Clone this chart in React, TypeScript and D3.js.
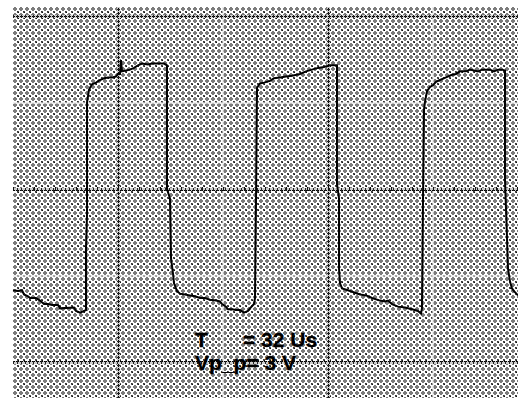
import React from "react";
import * as d3 from "d3";

// Oscilloscope trace: time (µs) and voltage (V)
const timeUs = [0, 0.95, 1.71, 2.1, 2.86, 3.24, 4.38, 5.14, 5.9, 6.67, 7.43, 8.57, 8.95, 11.62, 12.0, 12.76, 13.52, 13.9, 13.9, 14.1, 14.1, 14.48, 15.05, 15.81, 16.57, 17.33, 18.1, 18.86, 19.62, 20.0, 20.38, 20.57, 20.76, 21.52, 22.29, 23.05, 23.81, 24.57, 25.71, 26.48, 27.62, 28.76, 29.33, 29.33, 29.9, 30.1, 30.48, 30.67, 31.24, 31.81, 32.76, 33.71, 34.67, 35.62, 36.57, 37.52, 38.67, 39.43, 39.81, 40.57, 40.95, 41.71, 42.48, 43.24, 44.0, 44.76, 45.14, 45.9, 46.1, 46.29, 46.48, 47.05, 47.81, 48.95, 49.71, 50.86, 52.0, 53.14, 54.67, 55.81, 56.95, 58.1, 59.24, 60.38, 61.52, 61.71, 61.71, 62.1, 62.1, 62.29, 62.67, 63.81, 65.14, 66.1, 67.24, 68.38, 69.9, 70.86, 71.43, 72.19, 73.33, 74.67, 76.0, 77.14, 77.71, 77.9, 78.1, 78.29, 78.48, 78.86, 79.43, 80.0, 80.57, 81.33, 82.48, 83.62, 84.38, 85.14, 86.29, 87.05, 87.81, 88.57, 89.33, 90.86, 91.62, 92.38, 93.14, 93.71, 93.71, 94.1, 94.29, 94.67, 95.05, 95.43, 96.19];
const volts = [-1.17, -1.18, -1.17, -1.22, -1.24, -1.26, -1.26, -1.29, -1.33, -1.33, -1.34, -1.34, -1.38, -1.37, -1.41, -1.43, -1.41, -1.4, -0.69, -0.29, 1.0, 1.15, 1.21, 1.23, 1.26, 1.28, 1.29, 1.29, 1.3, 1.33, 1.33, 1.49, 1.36, 1.37, 1.38, 1.4, 1.43, 1.45, 1.44, 1.45, 1.45, 1.45, 1.43, 0.0, -0.11, -0.8, -0.98, -1.09, -1.18, -1.21, -1.22, -1.23, -1.24, -1.26, -1.26, -1.28, -1.29, -1.3, -1.33, -1.36, -1.39, -1.39, -1.4, -1.4, -1.43, -1.41, -1.38, -1.33, -1.26, -0.11, 1.17, 1.22, 1.23, 1.25, 1.28, 1.29, 1.3, 1.31, 1.33, 1.36, 1.38, 1.4, 1.41, 1.43, 1.43, 1.43, 0.06, -0.11, -0.92, -1.09, -1.15, -1.17, -1.2, -1.22, -1.23, -1.26, -1.29, -1.3, -1.29, -1.33, -1.36, -1.37, -1.39, -1.41, -1.44, -1.38, -0.11, 0.92, 1.01, 1.13, 1.18, 1.2, 1.24, 1.26, 1.29, 1.32, 1.33, 1.36, 1.36, 1.38, 1.37, 1.36, 1.38, 1.38, 1.36, 1.38, 1.38, 1.37, 0.11, -0.57, -0.92, -1.07, -1.15, -1.18, -1.23];

const timeGrid = [0, 20, 40, 60, 80];
const majorTimes = [20, 60];
const voltGrid = [2, 1, 0, -1, -2];
const majorVolts = [2, 0, -2];
const readoutLabels = ["T", "= 32 Us", "Vp_p= 3 V"];

export default function App() {
  const W = 518, H = 401;
  const left = 13, top = 7, right = 518, bottom = 398;
  const x = d3.scaleLinear().domain([0, 100]).range([13, 538]);
  const y = d3.scaleLinear().domain([-2, 2]).range([362, 16]);
  const line = d3
    .line<number>()
    .x((_, i) => x(timeUs[i]))
    .y((d) => y(d));
  const path = line(volts) || "";
  const subTicks = d3.range(0, 100, 4);
  const font = "'Liberation Sans', Arial, sans-serif";

  return (
    <svg width={W} height={H} style={{ position: "absolute", left: 0, top: 0, background: "#fff" }}>
      <defs>
        <pattern id="dither" width={6} height={6} patternUnits="userSpaceOnUse">
          <rect width={6} height={6} fill="#ffffff" />
          <rect x={2} y={1} width={2} height={4} fill="#7c7c7c" />
          <rect x={1} y={2} width={4} height={2} fill="#7c7c7c" />
          <rect x={0} y={0} width={1} height={1} fill="#111" />
          <rect x={5} y={5} width={1} height={1} fill="#333" />
          <rect x={5} y={0} width={1} height={1} fill="#555" />
          <rect x={0} y={5} width={1} height={1} fill="#555" />
        </pattern>
        <pattern id="dotsH" width={4} height={3} patternUnits="userSpaceOnUse">
          <rect width={4} height={3} fill="#ccc" />
          <rect x={0} y={1} width={3} height={1} fill="#000" />
          <rect x={1} y={0} width={1} height={3} fill="#222" />
        </pattern>
        <pattern id="dotsV" width={3} height={4} patternUnits="userSpaceOnUse">
          <rect width={3} height={4} fill="#ccc" />
          <rect x={1} y={0} width={1} height={3} fill="#000" />
          <rect x={0} y={1} width={3} height={1} fill="#222" />
        </pattern>
      </defs>
      <rect x={left} y={top} width={right - left} height={bottom - top} fill="url(#dither)" shapeRendering="crispEdges" />
      {/* minor grid lines (light) */}
      {timeGrid.filter((t) => !majorTimes.includes(t) && t > 0).map((t) => (
        <rect key={"vt" + t} x={x(t) - 1} y={top} width={2} height={bottom - top} fill="#e6e6e6" opacity={0.6} shapeRendering="crispEdges" />
      ))}
      {voltGrid.filter((v) => !majorVolts.includes(v)).map((v) => (
        <rect key={"hv" + v} x={left} y={y(v) - 1} width={right - left} height={2} fill="#e6e6e6" opacity={0.6} shapeRendering="crispEdges" />
      ))}
      {/* major grid lines (dotted) */}
      {majorTimes.map((t) => (
        <rect key={"mt" + t} x={x(t) - 1} y={top} width={3} height={bottom - top} fill="url(#dotsV)" shapeRendering="crispEdges" />
      ))}
      {majorVolts.map((v) => (
        <rect key={"mv" + v} x={left} y={y(v) - 1} width={right - left} height={3} fill="url(#dotsH)" shapeRendering="crispEdges" />
      ))}
      {subTicks.map((t) => (
        <line key={"st" + t} x1={x(t)} x2={x(t)} y1={y(0) - 2} y2={y(0) + 2} stroke="#111" strokeWidth={1} shapeRendering="crispEdges" />
      ))}
      <path d={path} fill="none" stroke="#000" strokeWidth={2} strokeLinejoin="miter" />
      <g fontFamily={font} fontWeight="bold" fontSize={21} fill="#000" stroke="#000" strokeWidth={0.3}>
        <text x={195} y={347}>{readoutLabels[0]}</text>
        <text x={243} y={347}>{readoutLabels[1]}</text>
        <text x={195} y={370}>{readoutLabels[2]}</text>
      </g>
    </svg>
  );
}
